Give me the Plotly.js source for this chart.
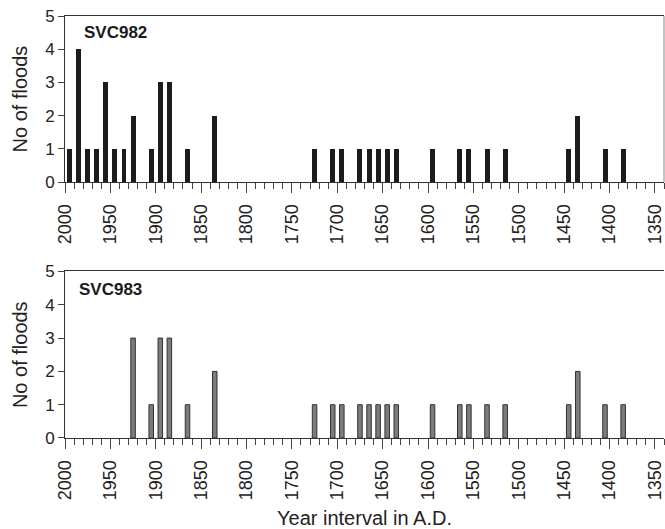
<!DOCTYPE html>
<html>
<head>
<meta charset="utf-8">
<script src="https://cdn.plot.ly/plotly-3.0.1.min.js"></script>
<style>html,body{margin:0;padding:0;background:#fff;}#chart{width:665px;height:529px;}</style>
</head>
<body>
<div id="chart"></div>
<script>
// Decade mid-points (A.D.) and flood counts
const years982 = [1995, 1985, 1975, 1965, 1955, 1945, 1935, 1925, 1905, 1895, 1885, 1865, 1835,
  1725, 1705, 1695, 1675, 1665, 1655, 1645, 1635, 1595, 1565, 1555, 1535, 1515, 1445, 1435, 1405, 1385];
const floods982 = [1, 4, 1, 1, 3, 1, 1, 2, 1, 3, 3, 1, 2,
  1, 1, 1, 1, 1, 1, 1, 1, 1, 1, 1, 1, 1, 1, 2, 1, 1];
const years983 = [1925, 1905, 1895, 1885, 1865, 1835,
  1725, 1705, 1695, 1675, 1665, 1655, 1645, 1635, 1595, 1565, 1555, 1535, 1515, 1445, 1435, 1405, 1385];
const floods983 = [3, 1, 3, 3, 1, 2,
  1, 1, 1, 1, 1, 1, 1, 1, 1, 1, 1, 1, 1, 1, 2, 1, 1];
const labels = ['SVC982', 'SVC983'];
const yTitle = 'No of floods';
const xTitle = 'Year interval in A.D.';

const fam = 'Liberation Sans, Arial, sans-serif';
const txt = '#222';
const traces = [
  {type: 'bar', x: years982, y: floods982, width: 5.5, xaxis: 'x', yaxis: 'y',
   marker: {color: '#1c1c1c', line: {width: 0}}, hoverinfo: 'x+y'},
  {type: 'bar', x: years983, y: floods983, width: 5, xaxis: 'x2', yaxis: 'y2',
   marker: {color: '#7c7c7c', line: {color: '#333', width: 1}}, hoverinfo: 'x+y'}
];

function xax(anchor, withTitle) {
  return {
    anchor: anchor, range: [2000, 1340], autorange: false,
    tick0: 2000, dtick: 50, ticks: 'outside', ticklen: 10, tickwidth: 1, tickcolor: '#444',
    minor: {dtick: 10, tick0: 2000, ticks: 'outside', ticklen: 6, tickwidth: 1, tickcolor: '#444'},
    tickangle: -90, tickfont: {size: 18, family: fam, color: txt}, ticklabelstandoff: 4,
    showline: true, linecolor: '#333', linewidth: 1, mirror: true,
    showgrid: false, zeroline: false, automargin: false,
    title: withTitle ? {text: xTitle, font: {size: 20, family: fam, color: txt}, standoff: 12} : {text: ''}
  };
}
function yax(anchor, domain) {
  return {
    anchor: anchor, domain: domain, range: [0, 5], autorange: false, dtick: 1,
    ticks: 'outside', ticklen: 6, tickwidth: 1, tickcolor: '#444',
    tickfont: {size: 17, family: fam, color: txt},
    showline: true, linecolor: '#333', linewidth: 1,
    showgrid: false, zeroline: false, automargin: false,
    title: {text: yTitle, font: {size: 20, family: fam, color: txt}, standoff: 12}
  };
}

const layout = {
  width: 665, height: 529,
  margin: {l: 65, r: 1, t: 16, b: 91},
  paper_bgcolor: '#fff', plot_bgcolor: '#fff',
  font: {family: fam, color: txt}, showlegend: false, bargap: 0,
  xaxis: xax('y', false),
  yaxis: yax('x', [0.6064, 1]),
  xaxis2: xax('y2', true),
  yaxis2: yax('x2', [0, 0.3946]),
  shapes: [
    {type: 'line', xref: 'paper', yref: 'paper', x0: 1, x1: 1, y0: 0.6064, y1: 1,
     line: {color: '#888', width: 1}}
  ],
  annotations: [
    {text: '<b>' + labels[0] + '</b>', xref: 'paper', yref: 'paper', x: 0.029, y: 0.961,
     xanchor: 'left', yanchor: 'middle', showarrow: false, font: {size: 17, family: fam, color: '#1a1a1a'}},
    {text: '<b>' + labels[1] + '</b>', xref: 'paper', yref: 'paper', x: 0.02, y: 0.3526,
     xanchor: 'left', yanchor: 'middle', showarrow: false, font: {size: 17, family: fam, color: '#1a1a1a'}}
  ]
};

Plotly.newPlot('chart', traces, layout, {displayModeBar: false, staticPlot: true});
</script>
</body>
</html>
